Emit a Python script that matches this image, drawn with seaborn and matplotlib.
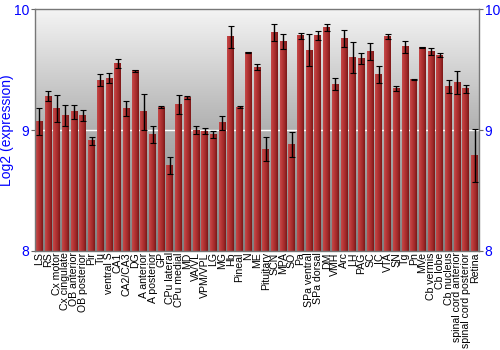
import numpy as np
import pandas as pd
import matplotlib
matplotlib.use("Agg")
import matplotlib.pyplot as plt
import seaborn as sns
from matplotlib.colors import LinearSegmentedColormap

regions = ["LS", "RS", "Cx motor", "Cx cingulate", "OB anterior", "OB posterior", "Pir", "Tu",
           "ventral S", "CA1", "CA2/CA3", "DG", "A anterior", "A posterior", "GP", "CPu lateral",
           "CPu medial", "MD", "VA/VL", "VPM/VPL", "LG", "MG", "Hb", "Pineal", "N", "ME",
           "Pituitary", "SCN", "MPA", "SO", "Pa", "SPa ventral", "SPa dorsal", "DM", "VMH",
           "Arc", "LH", "PAG", "SC", "IC", "VTA", "SN", "Tg", "Pn", "MVe", "Cb vermis",
           "Cb lobe", "Cb nucleus", "spinal cord anterior", "spinal cord posterior", "Retina"]
expression = [9.07, 9.28, 9.18, 9.12, 9.15, 9.12, 8.91, 9.41, 9.43, 9.55, 9.18, 9.49, 9.15,
              8.96, 9.19, 8.71, 9.21, 9.27, 9.00, 8.99, 8.96, 9.06, 9.77, 9.19, 9.64, 9.52,
              8.84, 9.81, 9.73, 8.88, 9.78, 9.66, 9.78, 9.85, 9.38, 9.76, 9.60, 9.59, 9.65,
              9.46, 9.77, 9.34, 9.69, 9.42, 9.68, 9.65, 9.62, 9.36, 9.39, 9.34, 8.79]
error = [0.11, 0.04, 0.11, 0.09, 0.06, 0.045, 0.03, 0.05, 0.04, 0.04, 0.06, 0.01, 0.15,
         0.07, 0.01, 0.07, 0.08, 0.01, 0.03, 0.025, 0.03, 0.06, 0.09, 0.01, 0.005, 0.025,
         0.10, 0.07, 0.06, 0.10, 0.025, 0.13, 0.035, 0.03, 0.05, 0.07, 0.13, 0.045, 0.07,
         0.07, 0.02, 0.02, 0.05, 0.005, 0.005, 0.03, 0.015, 0.055, 0.095, 0.03, 0.22]
y_ticks = [8, 9, 10]
y_label = "Log2 (expression)"

df = pd.DataFrame({"region": regions, "expression": expression, "error": error})

sns.set_theme(style="white")
plt.rcParams['font.family'] = ['Liberation Sans', 'DejaVu Sans']

fig = plt.figure(figsize=(5, 3.5), dpi=100)
ax = fig.add_axes([0.07, 0.283, 0.888, 0.691])

sns.barplot(data=df, x="region", y="expression", color="#b03030", width=0.8,
            saturation=1, ax=ax, zorder=2, errorbar=None)
ax.set_xlim(-0.5, len(regions) - 0.5)
ax.set_ylim(8, 10)

# background gradient: light at top, darker toward bottom
bg = np.linspace(0, 1, 256).reshape(-1, 1)
bg_cmap = LinearSegmentedColormap.from_list("bg", ["#f4f4f4", "#b0b0b0", "#808080"])
ax.imshow(bg, aspect="auto", cmap=bg_cmap, origin="upper", extent=[0, 1, 0, 1],
          transform=ax.transAxes, zorder=0, interpolation="bicubic")

ax.axhline(9, color="white", lw=1, zorder=1)

bar_cmap = LinearSegmentedColormap.from_list("bar", ["#c44a4a", "#b83636", "#a02a2a", "#7a1616"])
grad = np.linspace(0, 1, 64).reshape(1, -1)
for p in ax.patches:
    x0, w = p.get_x(), p.get_width()
    h = p.get_height()
    p.set_facecolor("none")
    p.set_edgecolor("none")
    ax.imshow(grad, aspect="auto", cmap=bar_cmap, origin="upper",
              extent=[x0, x0 + w, 8, p.get_y() + h], zorder=2, interpolation="bicubic")

ax.set_xlim(-0.5, len(regions) - 0.5)
ax.set_ylim(8, 10)

xs = np.arange(len(regions))
ax.errorbar(xs, df["expression"], yerr=df["error"], fmt="none", ecolor="black",
            elinewidth=1, capsize=2, capthick=0.8, zorder=3)

ax.set_xticks(xs)
ax.set_xticklabels(regions, rotation=90, fontsize=7.6, color="black")
ax.tick_params(axis="x", length=0, pad=1)
ax.set_xlabel("")
ax.set_yticks(y_ticks)
ax.set_yticklabels([str(t) for t in y_ticks], color="blue", fontsize=10)
ax.tick_params(axis="y", left=True, right=True, labelleft=True, labelright=True,
               length=3, width=0.8, color="#666666", direction="out", pad=1)
ax.set_ylabel(y_label, color="blue", fontsize=10)
ax.yaxis.set_label_coords(-0.047, 0.5)

for s in ax.spines.values():
    s.set_color("#777777")
    s.set_linewidth(1)

fig.savefig("out.png", dpi=100)
